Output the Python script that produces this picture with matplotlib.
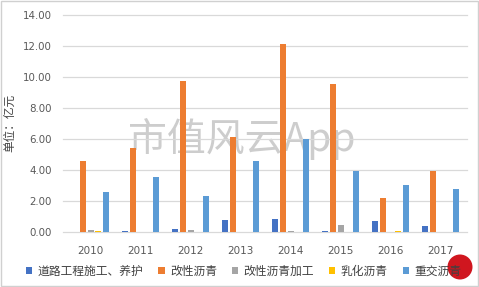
import matplotlib
matplotlib.use("Agg")
import matplotlib.pyplot as plt
import numpy as np
from matplotlib.patches import Rectangle, Ellipse, Patch

plt.rcParams['font.family'] = ['Noto Sans CJK SC', 'DejaVu Sans']

years = ['2010', '2011', '2012', '2013', '2014', '2015', '2016', '2017']
series_names = ['道路工程施工、养护', '改性沥青', '改性沥青加工', '乳化沥青', '重交沥青']
road = [0.00, 0.08, 0.19, 0.77, 0.83, 0.05, 0.70, 0.38]
modified = [4.60, 5.39, 9.71, 6.09, 12.10, 9.54, 2.19, 3.90]
modified_proc = [0.13, 0.00, 0.15, 0.00, 0.05, 0.45, 0.00, 0.00]
emulsified = [0.08, 0.00, 0.00, 0.00, 0.00, 0.00, 0.05, 0.00]
heavy = [2.56, 3.53, 2.30, 4.60, 5.99, 3.90, 3.00, 2.75]
colors = ['#4472C4', '#ED7D31', '#A5A5A5', '#FFC000', '#5B9BD5']
yticks = [0, 2, 4, 6, 8, 10, 12, 14]

W, H = 479, 287
fig = plt.figure(figsize=(W / 100, H / 100), dpi=100)
ax = fig.add_axes([63 / W, 1 - 232 / H, (467 - 63) / W, (232 - 14.7) / H])
ax.patch.set_visible(False)

x = np.arange(len(years))
step, width = 0.155, 0.12
all_series = [road, modified, modified_proc, emulsified, heavy]
for i, (vals, c) in enumerate(zip(all_series, colors)):
    ax.bar(x + (i - 2) * step, vals, width=width, color=c, zorder=3, label=series_names[i])

ax.set_xlim(-0.55, 7.53)
ax.set_ylim(0, 14)
ax.set_yticks(yticks)
ax.set_yticklabels([f'{v:.2f}' for v in yticks], family='DejaVu Sans', fontsize=7.4, color='#595959')
ax.set_xticks(x)
ax.set_xticklabels(years, family='DejaVu Sans', fontsize=7.5, color='#595959')
ax.tick_params(axis='both', length=0)
ax.tick_params(axis='y', pad=8)
ax.tick_params(axis='x', pad=10)
ax.grid(axis='y', color='#d9d9d9', linewidth=0.9, zorder=0)
for s in ax.spines.values():
    s.set_visible(False)
for gl in ax.get_ygridlines():
    gl.set_clip_on(False)

fig.text(10 / W, 1 - 123 / H, '单位：亿元', rotation=90, ha='center', va='center',
         fontsize=8.4, color='#404040')

# watermark
fig.text(242 / W, 1 - 139 / H, '市值风云App', ha='center', va='center', fontsize=28,
         color='#bdbdbd', alpha=0.75, zorder=-1)

handles = [Patch(facecolor=c, edgecolor='none') for c in colors]
leg = fig.legend(handles, series_names, loc='center left', bbox_to_anchor=(26 / W, 1 - 271 / H),
                 ncol=5, frameon=False, fontsize=8.5, handlelength=0.55, handleheight=0.55,
                 handletextpad=0.45, columnspacing=1.25, borderpad=0, borderaxespad=0)
for t in leg.get_texts():
    t.set_color('#404040')

# logo
fig.add_artist(Ellipse((460 / W, 1 - 267 / H), 25 / W, 25 / H, transform=fig.transFigure,
                       facecolor='#d0161f', edgecolor='none', zorder=5))

# border
fig.add_artist(Rectangle((1 / W, 1 / H), (W - 2) / W, (H - 2) / H, transform=fig.transFigure,
                         facecolor='none', edgecolor='#d0d0d0', linewidth=1))

fig.savefig('out.png', dpi=100)
